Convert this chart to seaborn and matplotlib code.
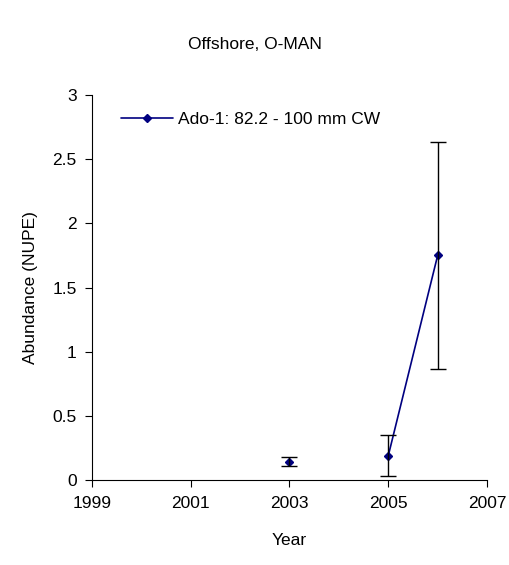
import numpy as np
import matplotlib
matplotlib.use("Agg")
import matplotlib.pyplot as plt
import seaborn as sns
import pandas as pd

years = [2003, 2004, 2005, 2006]
abundance = [0.14, np.nan, 0.19, 1.75]
err_low = [0.11, np.nan, 0.03, 0.87]
err_high = [0.18, np.nan, 0.35, 2.63]

sns.set_style("white")
plt.rcParams['font.family'] = ['Liberation Sans', 'DejaVu Sans']
plt.rcParams['text.color'] = 'black'
plt.rcParams['axes.labelcolor'] = 'black'
plt.rcParams['xtick.color'] = 'black'
plt.rcParams['ytick.color'] = 'black'

fig = plt.figure(figsize=(5.10, 5.65), dpi=100)
ax = fig.add_axes([0.18, 0.15, 0.775, 0.682])

df = pd.DataFrame({"Year": years, "Abundance": abundance})
ax.plot(df["Year"], df["Abundance"], color="#000080", lw=1.2, marker="D",
        markersize=4, label="Ado-1: 82.2 - 100 mm CW")
y = np.array(abundance)
ax.errorbar(years, y, yerr=[y - np.array(err_low), np.array(err_high) - y],
            fmt="none", ecolor="black", elinewidth=1, capsize=6)

ax.set_xlim(1999, 2007)
ax.set_ylim(0, 3)
ax.set_xticks([1999, 2001, 2003, 2005, 2007])
ax.set_yticks([0, 0.5, 1, 1.5, 2, 2.5, 3])
ax.set_yticklabels(["0", "0.5", "1", "1.5", "2", "2.5", "3"])
ax.tick_params(direction="out", length=5, labelsize=12.5, pad=6,
               left=True, bottom=True)
for s in ["top", "right"]:
    ax.spines[s].set_visible(False)
for s in ["left", "bottom"]:
    ax.spines[s].set_color("black")
ax.set_xlabel("Year", fontsize=12.5, labelpad=16)
ax.set_ylabel("Abundance (NUPE)", fontsize=12.5, labelpad=10)
fig.suptitle("Offshore, O-MAN", fontsize=12.5, y=0.935)
ax.legend(loc="upper left", frameon=False, fontsize=12.5, handlelength=3,
          handletextpad=0.3, borderaxespad=0.6, bbox_to_anchor=(0.03, 1.0))
fig.savefig("out.png", dpi=100)
